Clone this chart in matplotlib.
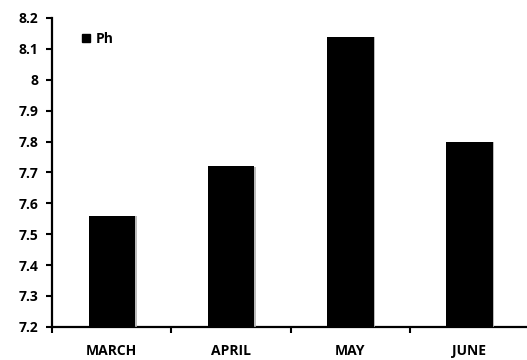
import matplotlib.pyplot as plt
import matplotlib.patheffects as pe
from matplotlib.ticker import FuncFormatter, MultipleLocator
from matplotlib.lines import Line2D

# --- Data ------------------------------------------------------------------
months = ["MARCH", "APRIL", "MAY", "JUNE"]
ph_values = [7.56, 7.72, 8.14, 7.80]
y_min, y_max = 7.2, 8.2

FONT = "Open Sans"

fig = plt.figure(figsize=(5.27, 3.6), dpi=100)
ax = fig.add_axes([0.099, 0.092, 0.905, 0.858])

positions = [i + 0.5 for i in range(len(months))]
bars = ax.bar(positions, [v - y_min for v in ph_values], bottom=y_min,
              width=0.39, color="black", zorder=3, label="Ph")
for b in bars:
    b.set_path_effects([pe.SimplePatchShadow(offset=(1.2, -0.5), shadow_rgbFace="#aaaaaa", alpha=0.8),
                        pe.Normal()])

ax.set_xlim(0, len(months))
ax.set_ylim(y_min, y_max)

# y axis: Excel-style "general" number labels
ax.yaxis.set_major_locator(MultipleLocator(0.1))
ax.yaxis.set_major_formatter(FuncFormatter(lambda v, _: f"{round(v, 1):g}"))

# x axis: ticks on category boundaries, labels at bar centres
ax.set_xticks(range(len(months) + 1))
ax.set_xticklabels([])
ax.set_xticks(positions, minor=True)
ax.set_xticklabels(months, minor=True)
ax.tick_params(axis="x", which="minor", length=0, pad=12)
ax.tick_params(axis="x", which="major", length=4, width=1.5, direction="out")
ax.tick_params(axis="y", length=4, width=1.5, direction="out", pad=6)

for lbl in ax.get_yticklabels() + ax.get_xticklabels(minor=True):
    lbl.set_fontfamily(FONT)
    lbl.set_fontweight("bold")
    lbl.set_fontsize(10)

for side in ["top", "right"]:
    ax.spines[side].set_visible(False)
for side in ["left", "bottom"]:
    ax.spines[side].set_linewidth(1.6)

handle = Line2D([0], [0], marker="s", color="w", markerfacecolor="black",
                markeredgecolor="black", markersize=5.5, label="Ph")
ax.legend(handles=[handle], loc="upper left", bbox_to_anchor=(0.035, 0.995),
          frameon=False, handlelength=0.6, handletextpad=0.4,
          prop={"family": FONT, "weight": "bold", "size": 10})

fig.savefig("out.png", dpi=100)
